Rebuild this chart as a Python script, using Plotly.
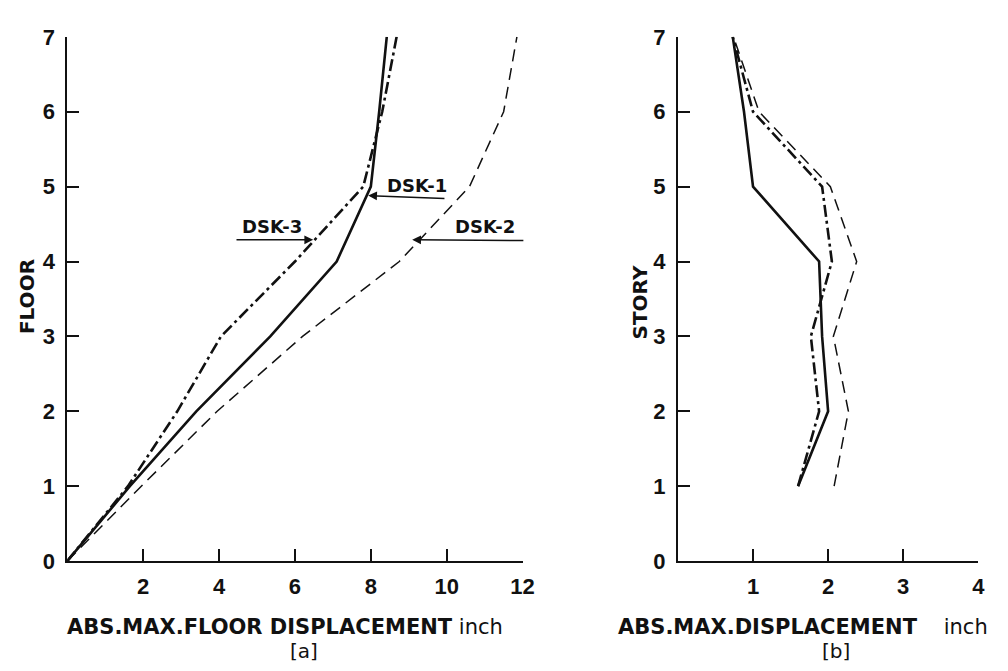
import plotly.graph_objects as go

# ---------------- data ----------------
floors = [0, 1, 2, 3, 4, 5, 6, 7]
dsk1_floor_disp = [0, 1.65, 3.4, 5.35, 7.1, 8.0, 8.22, 8.42]
dsk2_floor_disp = [0, 1.95, 3.95, 6.2, 8.75, 10.6, 11.5, 11.85]
dsk3_floor_disp = [0, 1.6, 2.9, 4.05, 6.0, 7.8, 8.3, 8.68]

stories = [1, 2, 3, 4, 5, 6, 7]
dsk1_story_disp = [1.6, 2.0, 1.92, 1.88, 1.0, 0.88, 0.73]
dsk2_story_disp = [2.08, 2.27, 2.07, 2.38, 2.03, 1.08, 0.74]
dsk3_story_disp = [1.6, 1.88, 1.77, 2.05, 1.92, 1.0, 0.73]

xticks_a = [2, 4, 6, 8, 10, 12]
xticks_b = [1, 2, 3, 4]
yticks = [0, 1, 2, 3, 4, 5, 6, 7]

W, H = 1008, 671
TICKFONT = dict(family="Liberation Sans, Arial, sans-serif", size=22, color="#111", weight="bold")
TXT = "DejaVu Sans, sans-serif"
INK = "#111"

solid = dict(color=INK, width=2.6)
dashed = dict(color=INK, width=1.5, dash="12px,7px")
dashdot = dict(color=INK, width=2.6, dash="12px,4px,3px,4px")

fig = go.Figure()
# panel (a)
fig.add_trace(go.Scatter(x=dsk1_floor_disp, y=floors, mode="lines", line=solid, name="DSK-1", xaxis="x", yaxis="y"))
fig.add_trace(go.Scatter(x=dsk2_floor_disp, y=floors, mode="lines", line=dashed, name="DSK-2", xaxis="x", yaxis="y"))
fig.add_trace(go.Scatter(x=dsk3_floor_disp, y=floors, mode="lines", line=dashdot, name="DSK-3", xaxis="x", yaxis="y"))
# panel (b)
fig.add_trace(go.Scatter(x=dsk1_story_disp, y=stories, mode="lines", line=solid, name="DSK-1", xaxis="x2", yaxis="y2"))
fig.add_trace(go.Scatter(x=dsk2_story_disp, y=stories, mode="lines", line=dashed, name="DSK-2", xaxis="x2", yaxis="y2"))
fig.add_trace(go.Scatter(x=dsk3_story_disp, y=stories, mode="lines", line=dashdot, name="DSK-3", xaxis="x2", yaxis="y2"))

ydom = [(H - 562) / H, (H - 17.5) / H]
common_axis = dict(showline=True, linewidth=2, linecolor=INK, showgrid=False, zeroline=False,
                   ticks="inside", ticklen=12, tickwidth=1.6, tickcolor=INK, tickfont=TICKFONT,
                   fixedrange=True)

fig.update_layout(
    width=W, height=H,
    margin=dict(l=0, r=0, t=0, b=0),
    paper_bgcolor="white", plot_bgcolor="white",
    showlegend=False,
    xaxis=dict(domain=[60 / W, 520.8 / W], range=[0, 12], tickvals=xticks_a, anchor="y",
               ticklabelstandoff=5, **common_axis),
    yaxis=dict(domain=ydom, range=[0, 7], tickvals=yticks, anchor="x",
               ticklabelstandoff=6, **common_axis),
    xaxis2=dict(domain=[678 / W, 982 / W], range=[0, 4], tickvals=xticks_b, anchor="y2",
                ticklabelstandoff=5, **common_axis),
    yaxis2=dict(domain=ydom, range=[0, 7], tickvals=yticks, anchor="x2",
                ticklabelstandoff=6, **common_axis),
)

ann = []
# labels in panel (a)
lab = dict(family=TXT, size=18, color=INK)
ann.append(dict(x=9.21, y=5.01, xref="x", yref="y", text="<b>DSK-1</b>", showarrow=False, font=lab))
ann.append(dict(x=5.4, y=4.47, xref="x", yref="y", text="<b>DSK-3</b>", showarrow=False, font=lab))
ann.append(dict(x=11.0, y=4.47, xref="x", yref="y", text="<b>DSK-2</b>", showarrow=False, font=lab))
arrow = dict(xref="x", yref="y", axref="x", ayref="y", text="", showarrow=True,
             arrowhead=2, arrowsize=1.1, arrowwidth=1.6, arrowcolor=INK, standoff=0)
ann.append(dict(x=7.93, y=4.88, ax=9.98, ay=4.84, **arrow))
ann.append(dict(x=6.48, y=4.29, ax=4.42, ay=4.29, **arrow))
ann.append(dict(x=9.09, y=4.29, ax=12.06, ay=4.28, **arrow))

# axis titles
ttl = dict(family=TXT, size=21, color=INK)
ann.append(dict(x=58 / W, y=(H - 630) / H, xref="paper", yref="paper", xanchor="left", yanchor="middle",
                text="<b>ABS.MAX.FLOOR DISPLACEMENT</b> inch", showarrow=False, font=ttl))
ann.append(dict(x=300 / W, y=(H - 655) / H, xref="paper", yref="paper", xanchor="center", yanchor="middle",
                text="[a]", showarrow=False, font=dict(family=TXT, size=20, color=INK)))
ann.append(dict(x=615 / W, y=(H - 630) / H, xref="paper", yref="paper", xanchor="left", yanchor="middle",
                text="<b>ABS.MAX.DISPLACEMENT</b>\u00a0\u00a0\u00a0\u00a0inch", showarrow=False, font=ttl))
ann.append(dict(x=838 / W, y=(H - 655) / H, xref="paper", yref="paper", xanchor="center", yanchor="middle",
                text="[b]", showarrow=False, font=dict(family=TXT, size=20, color=INK)))
ann.append(dict(x=20 / W, y=(H - 287) / H, xref="paper", yref="paper", xanchor="center", yanchor="middle",
                text="<b>FLOOR</b>", textangle=-90, showarrow=False, font=dict(family=TXT, size=20, color=INK)))
ann.append(dict(x=640 / W, y=(H - 293) / H, xref="paper", yref="paper", xanchor="center", yanchor="middle",
                text="<b>STORY</b>", textangle=-90, showarrow=False, font=dict(family=TXT, size=20, color=INK)))

fig.update_layout(annotations=ann)
fig.write_html("out.html")
